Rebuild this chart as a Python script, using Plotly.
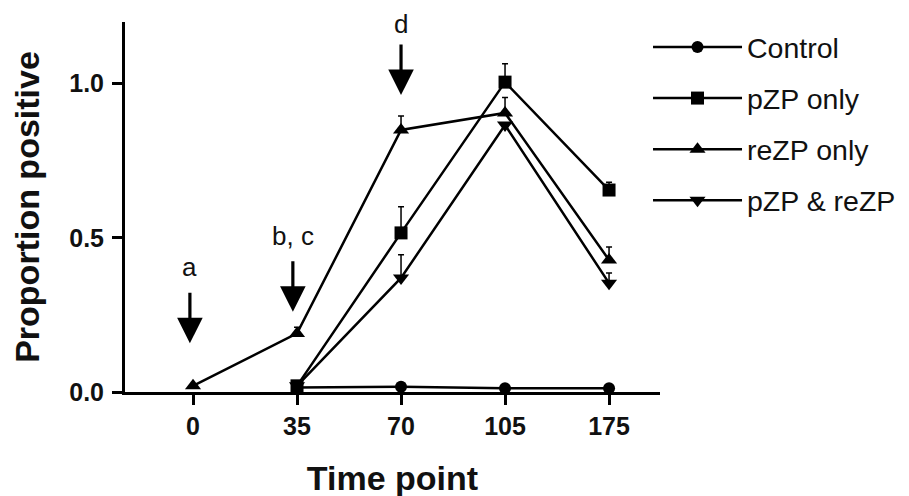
import plotly.graph_objects as go

time_points = ["0", "35", "70", "105", "175"]

control = [None, 0.015, 0.017, 0.012, 0.012]
control_err = [0, 0, 0, 0, 0]

pzp_only = [None, 0.02, 0.516, 1.005, 0.655]
pzp_only_err = [0, 0, 0.085, 0.06, 0.025]

rezp_only = [0.02, 0.19, 0.85, 0.905, 0.428]
rezp_only_err = [0, 0.02, 0.045, 0.05, 0.042]

pzp_rezp = [None, 0.02, 0.37, 0.866, 0.353]
pzp_rezp_err = [0, 0, 0.075, 0.0, 0.033]

series_names = ["Control", "pZP only", "reZP only", "pZP &amp; reZP"]
series_vals = [control, pzp_only, rezp_only, pzp_rezp]
series_errs = [control_err, pzp_only_err, rezp_only_err, pzp_rezp_err]
series_symbols = ["circle", "square", "triangle-up", "triangle-down"]
series_sizes = [12, 13, 14, 14]

# arrow positions (category index along x, value along y)
arrow_x = [-0.03, 0.96, 2.0]
arrow_tip_y = [0.158, 0.26, 0.963]
arrow_labels = ["a", "b, c", "d"]
arrow_label_y = [0.405, 0.505, 1.195]

FONT = "Liberation Sans, Arial"

fig = go.Figure()
for i, (name, vals, errs, sym, sz) in enumerate(zip(series_names, series_vals, series_errs, series_symbols, series_sizes)):
    fig.add_trace(go.Scatter(
        x=time_points, y=vals, name=name, mode="lines+markers",
        line=dict(color="black", width=2.5),
        marker=dict(symbol=sym, size=sz, color="black"),
        error_y=dict(type="data", symmetric=False, array=errs,
                     arrayminus=[0] * len(errs), color="black",
                     thickness=1.5, width=3),
        legendgroup="g%d" % i,
    ))

for xv, ty, lab, ly in zip(arrow_x, arrow_tip_y, arrow_labels, arrow_label_y):
    fig.add_annotation(x=xv, y=ty, xref="x", yref="y", text="",
                       showarrow=True, arrowhead=2, arrowsize=1.6,
                       arrowwidth=3.2, arrowcolor="black", ax=0, ay=-52)
    fig.add_annotation(x=xv, y=ly, xref="x", yref="y", text=lab,
                       showarrow=False,
                       font=dict(family=FONT, size=26, color="#111"))

fig.update_layout(
    width=909, height=496,
    margin=dict(l=117, r=257, t=14, b=112),
    paper_bgcolor="white", plot_bgcolor="white",
    font=dict(family=FONT, color="#111"),
    showlegend=True,
    legend=dict(x=0.9776, y=1.0, xanchor="left", yanchor="top",
                font=dict(size=28.5, family=FONT, color="#111"),
                itemwidth=89, tracegroupgap=11, bgcolor="rgba(0,0,0,0)"),
    xaxis=dict(type="category", range=[-0.654, 4.49],
               showline=True, linecolor="black", linewidth=3,
               ticks="outside", ticklen=10, tickwidth=3, tickcolor="black",
               showgrid=False, zeroline=False,
               tickfont=dict(size=25, family=FONT, weight="bold"),
               title=dict(text="Time point", standoff=28,
                          font=dict(size=34, family=FONT, weight="bold"))),
    yaxis=dict(range=[0, 1.2], tickvals=[0, 0.5, 1.0], ticktext=["0.0", "0.5", "1.0"],
               showline=True, linecolor="black", linewidth=3,
               ticks="outside", ticklen=10, tickwidth=3, tickcolor="black",
               ticklabelstandoff=3,
               showgrid=False, zeroline=False,
               tickfont=dict(size=25, family=FONT, weight="bold"),
               title=dict(text="Proportion positive", standoff=21,
                          font=dict(size=34, family=FONT, weight="bold"))),
)

fig.write_html("out.html")
